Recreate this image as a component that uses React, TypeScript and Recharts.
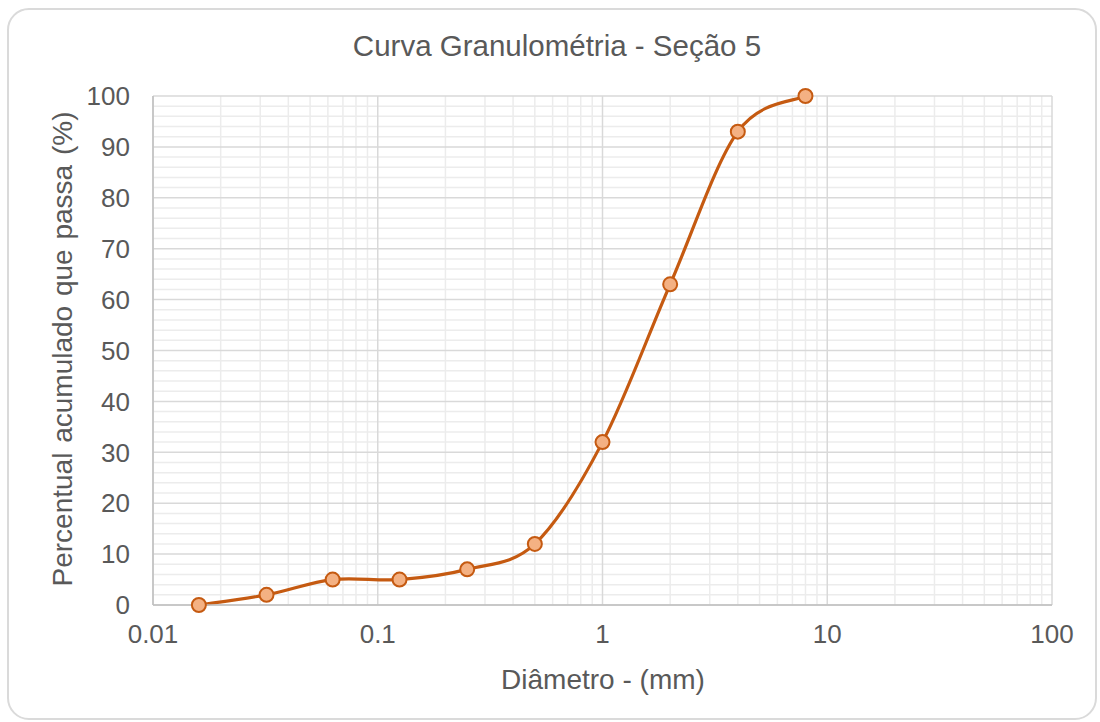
import React from "react";
import { LineChart, Line, XAxis, YAxis, ReferenceLine } from "recharts";

const diameters = [0.016, 0.032, 0.063, 0.125, 0.25, 0.5, 1, 2, 4, 8];
const passing = [0, 2, 5, 5, 7, 12, 32, 63, 93, 100];
const xTicks = [0.01, 0.1, 1, 10, 100];
const yTicks = [0, 10, 20, 30, 40, 50, 60, 70, 80, 90, 100];
const xMinor = [
  0.02, 0.03, 0.04, 0.05, 0.06, 0.07, 0.08, 0.09,
  0.2, 0.3, 0.4, 0.5, 0.6, 0.7, 0.8, 0.9,
  2, 3, 4, 5, 6, 7, 8, 9,
  20, 30, 40, 50, 60, 70, 80, 90,
];
const yMinor = [
  2, 4, 6, 8, 12, 14, 16, 18, 22, 24, 26, 28, 32, 34, 36, 38, 42, 44, 46, 48,
  52, 54, 56, 58, 62, 64, 66, 68, 72, 74, 76, 78, 82, 84, 86, 88, 92, 94, 96, 98,
];

const data = diameters.map((d, i) => ({ d, p: passing[i] }));

// Excel-like smooth curve (Catmull-Rom style bezier)
function excelSmooth(context: any) {
  let pts: [number, number][] = [];
  return {
    areaStart() {},
    areaEnd() {},
    lineStart() {
      pts = [];
    },
    point(x: number, y: number) {
      pts.push([+x, +y]);
    },
    lineEnd() {
      if (!pts.length) return;
      context.moveTo(pts[0][0], pts[0][1]);
      const n = pts.length;
      for (let i = 0; i < n - 1; i++) {
        const p0 = pts[i - 1] || pts[i];
        const p1 = pts[i];
        const p2 = pts[i + 1];
        const p3 = pts[i + 2] || pts[i + 1];
        const c1x = p1[0] + (p2[0] - p0[0]) / 6;
        const c1y = p1[1] + (p2[1] - p0[1]) / 6;
        const c2x = p2[0] - (p3[0] - p1[0]) / 6;
        const c2y = p2[1] - (p3[1] - p1[1]) / 6;
        context.bezierCurveTo(c1x, c1y, c2x, c2y, p2[0], p2[1]);
      }
    },
  };
}

const FONT = "'Liberation Sans', Arial, sans-serif";
const TXT = "#595959";

export default function App() {
  return (
    <div style={{ position: "absolute", left: 0, top: 0, width: 1100, height: 722, background: "#fff", fontFamily: FONT }}>
      <div
        style={{
          position: "absolute",
          left: 7,
          top: 8,
          width: 1086,
          height: 708,
          border: "2px solid #dadada",
          borderRadius: 22,
        }}
      />
      <div style={{ position: "absolute", left: 0, width: 1114, top: 29, textAlign: "center", fontSize: 29.5, lineHeight: "34px", color: TXT }}>
        Curva Granulométria - Seção 5
      </div>
      <div
        style={{
          position: "absolute",
          left: 63,
          top: 349,
          transform: "translate(-50%, -50%) rotate(-90deg)",
          whiteSpace: "nowrap",
          fontSize: 28,
          lineHeight: "34px",
          color: TXT,
          wordSpacing: 2,
        }}
      >
        Percentual acumulado que passa (%)
      </div>
      <div style={{ position: "absolute", left: 0, width: 1206, top: 663, textAlign: "center", fontSize: 28, lineHeight: "34px", color: TXT }}>
        Diâmetro - (mm)
      </div>
      <div style={{ position: "absolute", left: 0, top: 0 }}>
        <LineChart width={1100} height={722} data={data} margin={{ top: 96, right: 48, bottom: 57, left: 0 }}>
          {xMinor.map((v) => (
            <ReferenceLine key={"xm" + v} x={v} stroke="#ececec" strokeWidth={1.5} />
          ))}
          {yMinor.map((v) => (
            <ReferenceLine key={"ym" + v} y={v} stroke="#ececec" strokeWidth={1.5} />
          ))}
          {xTicks.map((v) => (
            <ReferenceLine key={"xM" + v} x={v} stroke="#d9d9d9" strokeWidth={1.5} />
          ))}
          {yTicks.map((v) => (
            <ReferenceLine key={"yM" + v} y={v} stroke="#d9d9d9" strokeWidth={1.5} />
          ))}
          <XAxis
            dataKey="d"
            type="number"
            scale="log"
            domain={[0.01, 100]}
            ticks={xTicks}
            allowDataOverflow
            height={60}
            axisLine={{ stroke: "#bfbfbf", strokeWidth: 1.5 }}
            tickLine={false}
            tickSize={0}
            tickMargin={20}
            tick={{ fill: TXT, fontSize: 26, fontFamily: FONT }}
            tickFormatter={(v: number) => String(v)}
            interval={0}
          />
          <YAxis
            type="number"
            domain={[0, 100]}
            ticks={yTicks}
            width={153}
            axisLine={{ stroke: "#bfbfbf", strokeWidth: 1.5 }}
            tickLine={false}
            tickSize={0}
            tickMargin={23}
            tick={{ fill: TXT, fontSize: 26, fontFamily: FONT }}
            interval={0}
          />
          <Line
            dataKey="p"
            type={excelSmooth as any}
            stroke="#C55A11"
            strokeWidth={3.2}
            dot={{ r: 7, fill: "#F4B183", stroke: "#C55A11", strokeWidth: 2 }}
            isAnimationActive={false}
          />
        </LineChart>
      </div>
    </div>
  );
}
